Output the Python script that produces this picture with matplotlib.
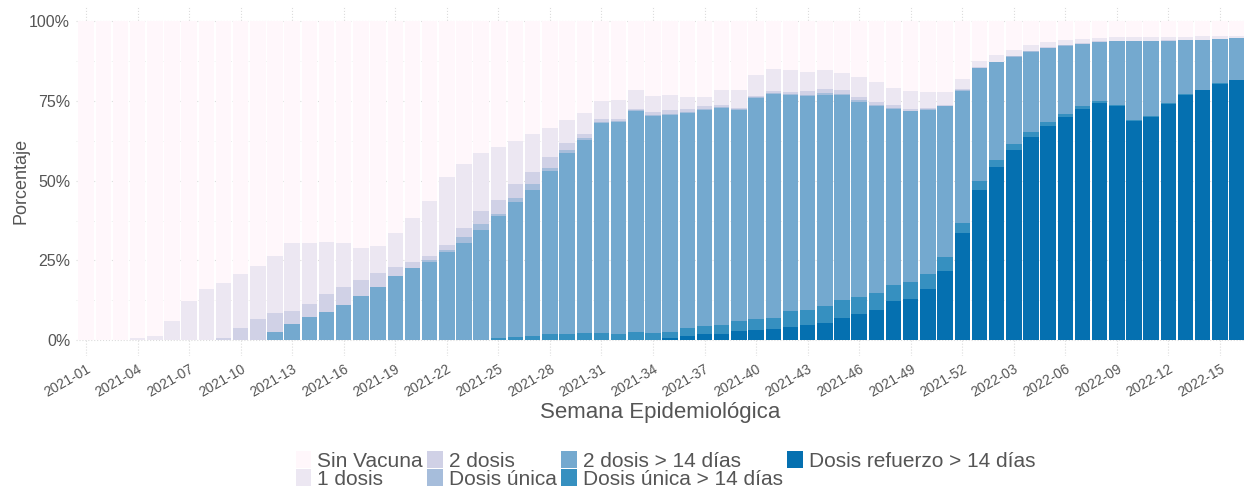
import numpy as np
import matplotlib
matplotlib.use("Agg")
import matplotlib.pyplot as plt
from matplotlib.patches import Patch

plt.rcParams['font.family'] = ['Liberation Sans', 'DejaVu Sans']

# Semanas epidemiologicas 2021-01 .. 2022-16
weeks = [f"2021-{w:02d}" for w in range(1, 53)] + [f"2022-{w:02d}" for w in range(1, 17)]

# Porcentaje acumulado (tope de cada capa, de abajo hacia arriba)
top_refuerzo = [0, 0, 0, 0, 0, 0, 0, 0, 0, 0, 0, 0, 0, 0, 0, 0, 0, 0, 0, 0,
                0, 0, 0, 0, 0, 0, 0, 0, 0, 0, 0, 0, 0, 0, 0.6, 1.3, 1.8, 1.9, 2.8, 3.1,
                3.5, 4.2, 4.8, 5.4, 7.0, 8.3, 9.5, 12.3, 13.0, 15.9, 21.7, 33.5, 47.1, 54.4, 59.8, 63.7,
                67.2, 70.0, 72.5, 74.4, 73.4, 68.8, 70.0, 74.2, 77.0, 78.4, 80.5, 81.5]
top_unica14 = [0, 0, 0, 0, 0, 0, 0, 0, 0, 0, 0, 0, 0, 0, 0, 0, 0, 0, 0, 0,
               0, 0, 0, 0, 0.8, 0.9, 1.2, 1.9, 1.9, 2.2, 2.1, 1.8, 2.5, 2.2, 2.5, 3.9, 4.4, 4.7, 6.0, 6.6,
               6.8, 9.0, 9.3, 10.7, 12.5, 13.6, 14.7, 17.3, 18.3, 20.7, 26.1, 36.6, 49.9, 56.5, 61.4, 65.2,
               68.4, 71.0, 73.5, 75.0, 73.8, 69.2, 70.3, 74.5, 77.2, 78.6, 80.7, 81.7]
top_dos14 = [0, 0, 0, 0, 0, 0, 0, 0, 0, 0, 0, 2.5, 5.1, 7.2, 8.8, 11.0, 13.8, 16.8, 20.2, 22.7,
             24.6, 27.7, 30.6, 34.5, 38.9, 43.3, 47.2, 53.1, 58.8, 62.9, 68.0, 68.4, 71.9, 70.4, 70.7, 71.2, 72.3, 72.8, 72.2, 76.1,
             77.3, 76.9, 76.6, 76.9, 76.9, 74.8, 73.5, 72.6, 71.8, 72.2, 73.5, 78.3, 85.4, 87.2, 89.0, 90.5,
             91.7, 92.4, 92.9, 93.7, 93.8, 93.8, 93.8, 94.0, 94.1, 94.2, 94.5, 94.8]
top_unica = [0, 0, 0, 0, 0, 0, 0, 0, 0, 0, 0, 2.5, 5.1, 7.2, 8.8, 11.0, 13.8, 16.8, 20.2, 22.7,
             25.0, 28.3, 32.2, 36.4, 39.6, 44.6, 49.0, 53.9, 59.7, 63.4, 68.4, 68.7, 72.1, 70.7, 71.0, 71.5, 72.6, 73.1, 72.4, 76.3,
             77.6, 77.2, 77.0, 77.4, 77.3, 75.2, 73.8, 72.9, 72.0, 72.4, 73.6, 78.5, 85.5, 87.3, 89.1, 90.6,
             91.8, 92.5, 93.0, 93.7, 93.8, 93.8, 93.8, 94.0, 94.1, 94.2, 94.5, 94.8]
top_dos = [0, 0, 0, 0, 0, 0, 0, 0, 0.7, 3.9, 6.7, 8.4, 9.2, 11.4, 14.4, 16.8, 19.0, 21.1, 22.9, 24.6,
           26.5, 29.8, 35.3, 40.5, 43.9, 49.0, 52.9, 57.4, 61.7, 64.7, 69.3, 69.3, 72.4, 71.5, 72.2, 72.5, 73.5, 73.8, 72.7, 76.6,
           78.1, 77.9, 78.1, 78.8, 78.5, 76.4, 74.7, 73.8, 72.4, 72.7, 73.8, 78.8, 85.6, 87.4, 89.2, 90.7,
           91.9, 92.6, 93.1, 93.8, 93.9, 93.9, 93.9, 94.1, 94.2, 94.3, 94.6, 94.9]
top_una = [0, 0, 0, 0.7, 1.4, 6.1, 12.3, 16.0, 18.0, 20.7, 23.2, 26.5, 30.4, 30.5, 30.7, 30.5, 29.0, 29.6, 33.5, 38.4,
           43.7, 51.3, 55.4, 58.6, 60.7, 62.5, 64.7, 66.6, 69.1, 71.2, 74.9, 75.2, 78.5, 76.6, 76.9, 76.3, 76.3, 78.4, 78.4, 83.3,
           85.1, 84.7, 84.1, 84.8, 83.9, 82.5, 81.0, 79.0, 78.2, 77.9, 77.9, 81.8, 87.6, 89.4, 91.2, 92.6,
           93.6, 94.2, 94.5, 94.9, 95.0, 95.1, 95.2, 95.2, 95.2, 95.3, 95.4, 95.5]
top_total = [100] * len(weeks)

labels = ["Sin Vacuna", "1 dosis", "2 dosis", "Dosis única",
          "2 dosis > 14 días", "Dosis única > 14 días", "Dosis refuerzo > 14 días"]
colors = ["#fff7fb", "#ece7f2", "#d0d1e6", "#a6bddb", "#74a9cf", "#3690c0", "#0570b0"]
tops = [top_total, top_una, top_dos, top_unica, top_dos14, top_unica14, top_refuerzo]

fig = plt.figure(figsize=(12.44, 4.87), dpi=100)
ax = fig.add_axes([0.0609, 0.269, 0.9391, 0.7196])

x = np.arange(len(weeks))
# each layer drawn from 0 up to its cumulative top, tallest first
for t, c in zip(tops, colors):
    ax.bar(x, t, width=0.9, color=c, linewidth=0, zorder=2)

ax.set_xlim(-0.6, len(weeks) - 0.6)
ax.set_ylim(-5, 105)
ax.set_yticks([0, 25, 50, 75, 100])
ax.set_yticklabels(["0%", "25%", "50%", "75%", "100%"])
ax.set_yticks([12.5, 37.5, 62.5, 87.5], minor=True)
ax.set_xticks(x[::3])
ax.set_xticklabels(weeks[::3], rotation=30, ha='right', rotation_mode='anchor')

ax.grid(True, which='major', color='#dcdcdc', linestyle=':', linewidth=0.8, zorder=0)
ax.grid(True, which='minor', axis='y', color='#e6e6e6', linestyle=':', linewidth=0.6, zorder=0)
ax.set_axisbelow(True)
for s in ax.spines.values():
    s.set_visible(False)
ax.tick_params(axis='both', which='both', length=0, colors='#555555')
ax.tick_params(axis='y', labelsize=11.5, pad=4)
ax.tick_params(axis='x', labelsize=10, pad=4)

ax.set_ylabel("Porcentaje", fontsize=13, color='#555555', labelpad=0)
ax.set_xlabel("Semana Epidemiológica", fontsize=16, color='#555555', labelpad=2)

handles = [Patch(facecolor=c, edgecolor='none') for c in colors]
fig.legend(handles, labels, loc='upper center', bbox_to_anchor=(0.535, 0.095), ncol=4,
           frameon=False, fontsize=15, handlelength=0.75, handleheight=0.85,
           handletextpad=0.3, columnspacing=0.2, labelspacing=-0.06, borderpad=0,
           labelcolor='#555555')

fig.savefig("out.png", dpi=100)
